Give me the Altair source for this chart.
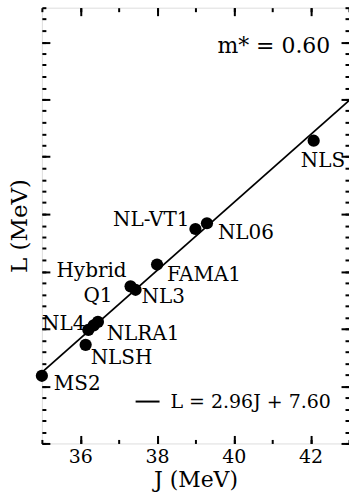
import altair as alt
import pandas as pd

# ---- data ----
models = ["MS2", "NLSH", "NL4", "NLRA1", "Q1", "Hybrid", "NL3", "FAMA1", "NL-VT1", "NL06", "NLS"]
J_vals = [35.00, 36.14, 36.21, 36.35, 36.46, 37.31, 37.44, 38.00, 39.00, 39.30, 42.08]
L_vals = [110.9, 113.6, 114.9, 115.3, 115.6, 118.7, 118.4, 120.6, 123.7, 124.2, 131.4]

fit_label = "L = 2.96J + 7.60"
fit_J = [35.0, 43.0]
fit_L = [111.2, 134.9]

annotation = "m* = 0.60"

x_major = [36, 38, 40, 42]
x_minor = list(range(35, 44))
y_major = list(range(105, 145, 5))
y_minor = list(range(105, 144))

J_domain = [35, 43]
L_domain = [105, 143]

# ---- layout / style ----
W, H = 308, 437
FONT = "DejaVu Serif"

pts = pd.DataFrame({"model": models, "J": J_vals, "L": L_vals})
fit = pd.DataFrame({"J": fit_J, "L": fit_L, "name": [fit_label] * len(fit_J)})

xs = alt.Scale(domain=J_domain, nice=False, zero=False)
ys = alt.Scale(domain=L_domain, nice=False, zero=False)


def tick_axis(orient, offset, values, size):
    return alt.Axis(orient=orient, offset=offset, values=values, tickSize=size,
                    tickWidth=2, tickColor="black", labels=False, domain=False,
                    grid=False, title=None)


x_main = alt.Axis(orient="bottom", values=x_major, ticks=False, domain=False, grid=False,
                  labelPadding=4, labelFont=FONT, labelFontSize=19, labelColor="black",
                  title="J (MeV)", titleFont=FONT, titleFontSize=22, titleFontWeight="normal",
                  titleColor="black", titlePadding=3)
y_main = alt.Axis(orient="left", ticks=False, domain=False, grid=False, labels=False,
                  title="L (MeV)", titleFont=FONT, titleFontSize=23, titleFontWeight="normal",
                  titleColor="black", titlePadding=10)

axis_pairs = [
    (x_main, y_main),
    (tick_axis("top", -H, x_major, 8), tick_axis("right", -W, y_major, 8)),
    (tick_axis("top", -H, x_minor, 4), tick_axis("right", -W, y_minor, 4)),
    (tick_axis("bottom", -H, x_major, 8), tick_axis("left", -W, y_major, 8)),
    (tick_axis("bottom", -H, x_minor, 4), tick_axis("left", -W, y_minor, 4)),
]

layers = []
layers.append(
    alt.Chart(fit).mark_line(color="black", strokeWidth=1.8, clip=True).encode(
        x=alt.X("J:Q", scale=xs, axis=axis_pairs[0][0]),
        y=alt.Y("L:Q", scale=ys, axis=axis_pairs[0][1]),
        color=alt.Color("name:N", scale=alt.Scale(range=["black"]),
                        legend=alt.Legend(orient="none", legendX=93, legendY=382, title=None,
                                          symbolType="stroke", symbolSize=576,
                                          symbolStrokeWidth=2, symbolStrokeColor="black",
                                          labelFont=FONT, labelFontSize=19, labelColor="black",
                                          labelOffset=10, labelLimit=400, padding=0)),
    )
)
for xa, ya in axis_pairs[1:]:
    layers.append(
        alt.Chart(fit).mark_point(opacity=0).encode(
            x=alt.X("J:Q", scale=xs, axis=xa),
            y=alt.Y("L:Q", scale=ys, axis=ya),
        )
    )
layers.append(
    alt.Chart(pts).mark_circle(size=150, color="black", opacity=1).encode(
        x=alt.X("J:Q", scale=xs, axis=None),
        y=alt.Y("L:Q", scale=ys, axis=None),
    )
)
label_style = {
    "MS2": ("left", 12, 8),
    "NLSH": ("left", 5, 13),
    "NL4": ("right", -3, -6),
    "NLRA1": ("left", 13, 9),
    "Q1": ("center", 0, -26),
    "Hybrid": ("right", -4, -15),
    "NL3": ("left", 6, 7),
    "FAMA1": ("left", 10, 10),
    "NL-VT1": ("right", -6, -9),
    "NL06": ("left", 11, 10),
    "NLS": ("left", -13, 20),
}
for name, (al, dx, dy) in label_style.items():
    layers.append(
        alt.Chart(pts).transform_filter(alt.datum.model == name).mark_text(
            align=al, baseline="middle", dx=dx, dy=dy, font=FONT, fontSize=20, color="black"
        ).encode(
            x=alt.X("J:Q", scale=xs, axis=None),
            y=alt.Y("L:Q", scale=ys, axis=None),
            text="model:N",
        )
    )
layers.append(
    alt.Chart(pd.DataFrame({"t": [annotation]})).mark_text(
        align="left", baseline="middle", font=FONT, fontSize=22, color="black"
    ).encode(x=alt.value(176), y=alt.value(38), text="t:N")
)

chart = alt.layer(*layers).resolve_axis(x="independent", y="independent").properties(
    width=W, height=H,
    autosize=alt.AutoSizeParams(type="none"),
    padding={"left": 42, "top": 7, "right": 0, "bottom": 50},
).configure_view(stroke="black", strokeWidth=2.5).configure(background="white")

chart.save("out.html", embed_options={"renderer": "svg", "actions": False})
